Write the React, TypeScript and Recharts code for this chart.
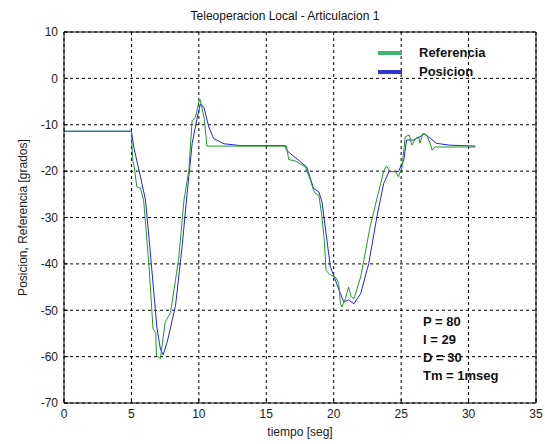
import React from "react";
import {
  LineChart,
  Line,
  XAxis,
  YAxis,
  CartesianGrid,
  ReferenceLine,
} from "recharts";

// Referencia (green) samples: tiempo [seg] and angle [grados]
const tiempoRef = [
  0, 5, 5.05, 5.1, 5.2, 5.4, 5.67, 5.9, 6.1, 6.3, 6.4, 6.6, 6.8, 6.86, 7.15, 7.5, 7.9, 8.5, 8.9,
  9.26, 9.5, 9.75, 10, 10.1, 10.4, 10.6, 16.5, 16.66, 17.15, 17.9, 18.27, 18.5, 18.64, 18.9,
  19.13, 19.3, 19.43, 19.75, 20.12, 20.37, 20.5, 20.6, 20.87, 21.1, 21.3, 21.5, 22, 22.7, 23.3,
  23.7, 23.9, 24.2, 24.6, 24.8, 25.07, 25.3, 25.6, 25.8, 26.06, 26.3, 26.4, 26.6, 26.9, 27.2,
  27.3, 27.5, 30.5,
];
const referencia = [
  -11.4, -11.4, -15, -17.6, -19, -23.4, -23.7, -26.2, -33, -40.5, -44.8, -54, -54.8, -59.8,
  -60.4, -52.6, -50.5, -39, -26.2, -19.8, -9.1, -8.4, -5.1, -4.6, -8.7, -14.6, -14.6, -17.5,
  -17.8, -19.1, -21.9, -24.1, -24.8, -25.2, -29.9, -34.9, -41.4, -42.4, -42.8, -44.2, -48.6,
  -49.3, -47.5, -45, -47.1, -47.5, -42.8, -32, -24.8, -20.1, -18.9, -20.1, -20.1, -21.2, -19.1,
  -12.6, -12.2, -14.4, -13, -12.6, -14, -11.9, -12.2, -14.4, -15.5, -14.8, -14.8,
];

// Posicion (blue) samples
const tiempoPos = [
  0, 5, 5.17, 5.67, 6.04, 6.36, 6.66, 6.9, 7.15, 7.35, 7.65, 8.27, 8.76, 9.13, 9.5, 9.88, 10.12,
  10.37, 10.74, 11.1, 11.86, 13.1, 16.4, 16.5, 16.9, 18, 18.5, 18.9, 19.13, 19.4, 19.75, 20.12,
  20.5, 20.74, 21.1, 21.5, 22, 22.6, 23.2, 23.7, 24.1, 24.8, 25.2, 25.4, 25.9, 26.4, 26.7, 27.2,
  27.6, 28.6, 30.5,
];
const posicion = [
  -11.4, -11.4, -14.8, -21.2, -26.2, -36.2, -46.2, -54, -58.4, -59.6, -56.9, -49, -36.2, -24.8,
  -14.1, -8.4, -5.5, -6.2, -10.5, -13, -14.1, -14.5, -14.5, -15.5, -16.5, -19.1, -23.7, -24.5,
  -26.6, -32.7, -40.6, -43.5, -46.4, -48.2, -47.8, -48.6, -46.4, -39.9, -29.9, -22.7, -20.1,
  -20.1, -17.6, -13.3, -13.3, -12.6, -11.9, -13, -14, -14.4, -14.6,
];

const xTicks = [0, 5, 10, 15, 20, 25, 30, 35];
const yTicks = [-70, -60, -50, -40, -30, -20, -10, 0, 10];

const pidLines = ["P = 80", "I = 29", "D = 30", "Tm = 1mseg"];

const seriesInfo = [
  { name: "Referencia", legendColor: "#3cb371" },
  { name: "Posicion", legendColor: "#3333cc" },
];

const refData = tiempoRef.map((t, i) => ({ t, v: referencia[i] }));
const posData = tiempoPos.map((t, i) => ({ t, v: posicion[i] }));

const FONT = "'Liberation Sans', Arial, sans-serif";

const LegendBox = () => (
  <div
    style={{ position: "absolute", left: 378, top: 43, fontFamily: FONT, fontWeight: "bold", fontSize: 13 }}
  >
    {seriesInfo.map((s) => (
      <div key={s.name} style={{ display: "flex", alignItems: "center", height: 19 }}>
        <span
          style={{ display: "inline-block", width: 24, height: 4, background: s.legendColor, marginRight: 17 }}
        />
        <span style={{ color: "#111" }}>{s.name}</span>
      </div>
    ))}
  </div>
);

export default function App() {
  return (
    <div style={{ position: "absolute", left: 0, top: 0, width: 545, height: 444, background: "#fff", fontFamily: FONT }}>
      <div
        style={{ position: "absolute", left: 0, width: 570, top: 9, textAlign: "center", fontSize: 12, color: "#111" }}
      >
        Teleoperacion Local - Articulacion 1
      </div>
      <LineChart width={545} height={444} margin={{ top: 32, right: 9, left: 0, bottom: 0 }}>
        <CartesianGrid stroke="#000" strokeDasharray="3 3" strokeWidth={1} />
        <XAxis
          dataKey="t"
          type="number"
          domain={[0, 35]}
          ticks={xTicks}
          allowDataOverflow
          height={41}
          stroke="#000"
          tickSize={-4}
          tickMargin={10}
          tick={{ fill: "#222", fontSize: 12, fontFamily: FONT }}
          label={{ value: "tiempo [seg]", position: "insideBottom", offset: 8, fill: "#222", fontSize: 12, fontFamily: FONT }}
        />
        <YAxis
          type="number"
          domain={[-70, 10]}
          ticks={yTicks}
          allowDataOverflow
          width={64}
          stroke="#000"
          tickSize={-4}
          tickMargin={10}
          tick={{ fill: "#222", fontSize: 12, fontFamily: FONT }}
          label={{
            value: "Posicion, Referencia [grados]",
            angle: -90,
            position: "insideLeft",
            dx: 18,
            dy: 0,
            fill: "#222",
            fontSize: 12,
            fontFamily: FONT,
            style: { textAnchor: "middle" },
          }}
        />
        <ReferenceLine y={10} stroke="#000" strokeWidth={1} />
        <ReferenceLine x={35} stroke="#000" strokeWidth={1} />
        <Line
          data={posData}
          dataKey="v"
          name="Posicion"
          type="linear"
          stroke="#2222ee"
          strokeWidth={1}
          dot={false}
          isAnimationActive={false}
        />
        <Line
          data={refData}
          dataKey="v"
          name="Referencia"
          type="linear"
          stroke="#229922"
          strokeWidth={1}
          dot={false}
          isAnimationActive={false}
        />
      </LineChart>
      <LegendBox />
      <div
        style={{ position: "absolute", left: 423, top: 313, fontSize: 13, fontWeight: "bold", lineHeight: "18px", color: "#111" }}
      >
        {pidLines.map((l) => (
          <div key={l}>{l}</div>
        ))}
      </div>
    </div>
  );
}
